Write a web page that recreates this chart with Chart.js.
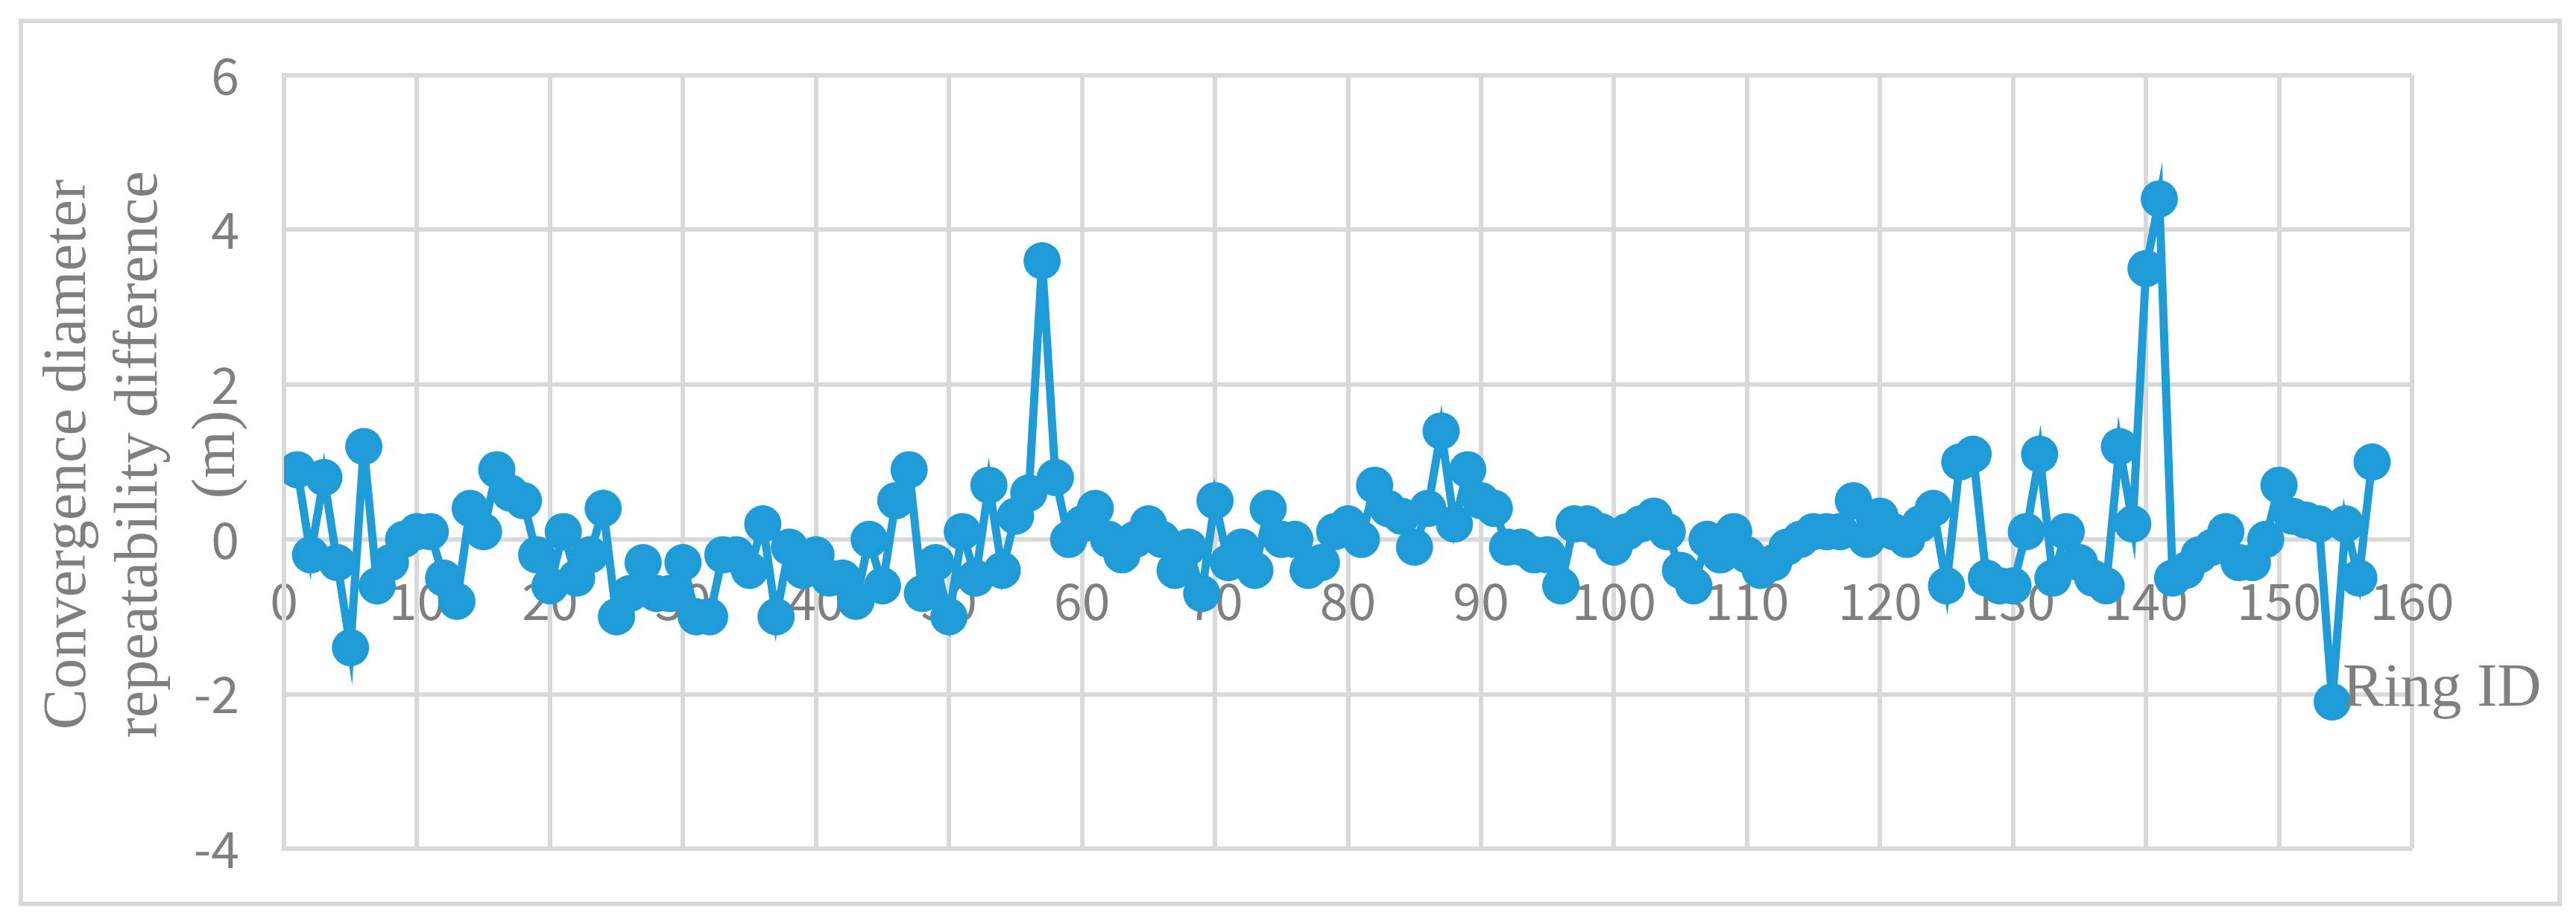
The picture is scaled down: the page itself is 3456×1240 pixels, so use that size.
<!DOCTYPE html>
<html>
<head>
<meta charset="utf-8">
<script src="https://cdn.jsdelivr.net/npm/chart.js@4"></script>
<style>
  html, body { margin: 0; padding: 0; background: #fff; }
  #wrap { width: 3456px; height: 1240px; }
</style>
</head>
<body>
<div id="wrap"><canvas id="c" width="3456" height="1240"></canvas></div>
<script>
// ring IDs 1..157 and the measured differences (m)
const ringIds = [];
for (let i = 1; i <= 157; i++) ringIds.push(i);

const diffValues = [
  0.9, -0.2, 0.8, -0.3, -1.4, 1.2, -0.6, -0.3, 0.0, 0.1,
  0.1, -0.5, -0.8, 0.4, 0.1, 0.9, 0.6, 0.5, -0.2, -0.6,
  0.1, -0.5, -0.2, 0.4, -1.0, -0.7, -0.3, -0.7, -0.7, -0.3,
  -1.0, -1.0, -0.2, -0.2, -0.4, 0.2, -1.0, -0.1, -0.4, -0.2,
  -0.5, -0.5, -0.8, 0.0, -0.6, 0.5, 0.9, -0.7, -0.3, -1.0,
  0.1, -0.5, 0.7, -0.4, 0.3, 0.6, 3.6, 0.8, 0.0, 0.2,
  0.4, 0.0, -0.2, 0.0, 0.2, 0.0, -0.4, -0.1, -0.7, 0.5,
  -0.3, -0.1, -0.4, 0.4, 0.0, 0.0, -0.4, -0.3, 0.1, 0.2,
  0.0, 0.7, 0.4, 0.3, -0.1, 0.4, 1.4, 0.2, 0.9, 0.5,
  0.4, -0.1, -0.1, -0.2, -0.2, -0.6, 0.2, 0.2, 0.1, -0.1,
  0.1, 0.2, 0.3, 0.1, -0.4, -0.6, 0.0, -0.2, 0.1, -0.2,
  -0.4, -0.3, -0.1, 0.0, 0.1, 0.1, 0.1, 0.5, 0.0, 0.3,
  0.1, 0.0, 0.2, 0.4, -0.6, 1.0, 1.1, -0.5, -0.6, -0.6,
  0.1, 1.1, -0.5, 0.1, -0.3, -0.5, -0.6, 1.2, 0.2, 3.5,
  4.4, -0.5, -0.4, -0.2, -0.1, 0.1, -0.3, -0.3, 0.0, 0.7,
  0.3, 0.25, 0.2, -2.1, 0.2, -0.5, 1.0
];

const yTitleLines = ['Convergence diameter', 'repeatability difference', '(m)'];
const xTitle = 'Ring ID';

const points = ringIds.map((id, i) => ({ x: id, y: diffValues[i] }));

const gray = '#7f7f7f';
const gridColor = '#d9d9d9';

// frame around the whole figure, axis titles
const extras = {
  id: 'extras',
  afterDraw(chart) {
    const ctx = chart.ctx;
    const area = chart.chartArea;
    ctx.save();
    ctx.strokeStyle = gridColor;
    ctx.lineWidth = 6;
    ctx.strokeRect(28, 28, 3406, 1185);

    ctx.fillStyle = gray;
    ctx.font = '82px "Liberation Serif"';
    ctx.textAlign = 'center';
    ctx.textBaseline = 'middle';
    const cy = (area.top + area.bottom) / 2 - 10;
    const xs = [92, 188, 292];
    yTitleLines.forEach((t, i) => {
      ctx.save();
      ctx.translate(xs[i], cy);
      ctx.rotate(-Math.PI / 2);
      ctx.fillText(t, 0, 0);
      ctx.restore();
    });

    ctx.textAlign = 'left';
    ctx.fillText(xTitle, 3143, 925);
    ctx.restore();
  }
};

new Chart(document.getElementById('c'), {
  type: 'line',
  data: {
    datasets: [{
      data: points,
      borderColor: '#1f9cd8',
      backgroundColor: '#1f9cd8',
      borderWidth: 11,
      pointRadius: 25,
      pointBorderWidth: 0,
      tension: 0
    }]
  },
  options: {
    responsive: false,
    animation: false,
    layout: { padding: { top: 91, bottom: 96, right: 220, left: 0 } },
    plugins: { legend: { display: false }, tooltip: { enabled: false } },
    scales: {
      x: {
        type: 'linear',
        position: { y: 0 },
        min: 0, max: 160,
        ticks: { stepSize: 10, color: gray, padding: 42, font: { size: 68, family: '"Noto Sans CJK SC"' } },
        grid: { color: gridColor, lineWidth: 6, drawTicks: false },
        border: { color: gridColor, width: 6 }
      },
      y: {
        min: -4, max: 6,
        afterFit(s) { s.width = 381; },
        ticks: { stepSize: 2, color: gray, padding: 60, font: { size: 68, family: '"Noto Sans CJK SC"' } },
        grid: { color: gridColor, lineWidth: 6, drawTicks: false },
        border: { color: gridColor, width: 6 }
      }
    }
  },
  plugins: [extras]
});
</script>
</body>
</html>
